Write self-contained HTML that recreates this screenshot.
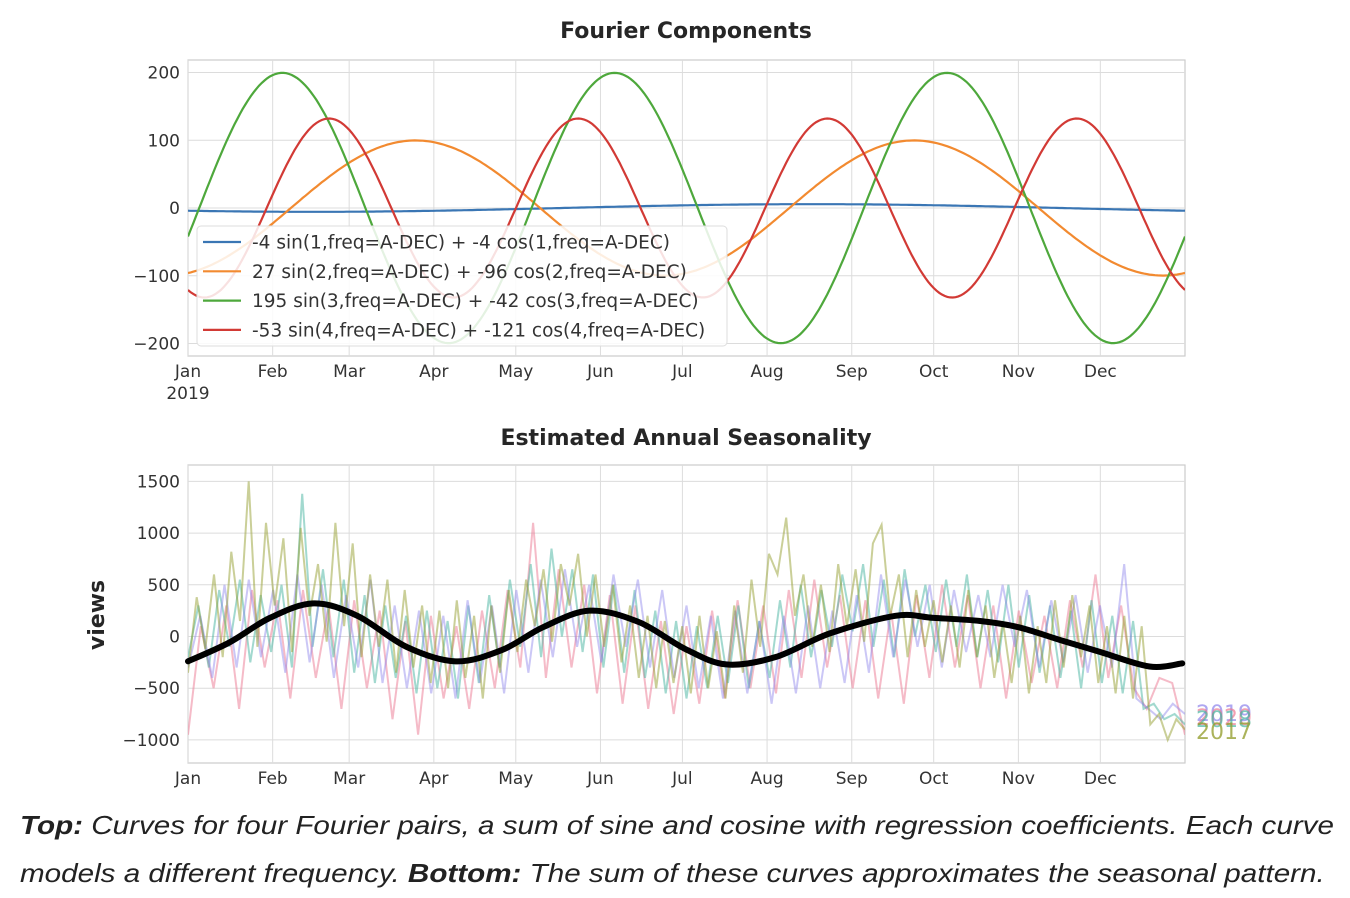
<!DOCTYPE html>
<html><head><meta charset="utf-8"><style>
body{margin:0;background:#fff;width:1350px;height:898px;overflow:hidden;position:relative}
svg{display:block}
.t{font-family:"DejaVu Sans","Liberation Sans",sans-serif;fill:#333;font-size:17px}
.lg{font-family:"DejaVu Sans","Liberation Sans",sans-serif;fill:#333;font-size:18.5px}
.title{font-family:"DejaVu Sans","Liberation Sans",sans-serif;font-weight:bold;font-size:22px;fill:#262626}
.cap{position:absolute;left:20px;font-family:"Liberation Sans",sans-serif;font-style:italic;font-size:26px;color:#222;white-space:nowrap;transform:scaleX(1.139);transform-origin:0 0}
</style></head><body>
<svg id="s" width="1350" height="898">
<text class="title" x="686" y="38" text-anchor="middle">Fourier Components</text>
<text class="title" x="686" y="445" text-anchor="middle">Estimated Annual Seasonality</text>
<text class="title" x="0" y="0" font-size="20" transform="translate(104,615) rotate(-90)" text-anchor="middle">views</text>
<g id="gtop"></g><g id="gbot"></g>
</svg>
<div class="cap" style="top:810px"><b>Top:</b> Curves for four Fourier pairs, a sum of sine and cosine with regression coefficients. Each curve</div>
<div class="cap" style="top:858px">models a different frequency. <b>Bottom:</b> The sum of these curves approximates the seasonal pattern.</div>
<script>
const months=["Jan","Feb","Mar","Apr","May","Jun","Jul","Aug","Sep","Oct","Nov","Dec"];
const monthDays=[0,31,59,90,120,151,181,212,243,273,304,334];
const sinCoef=[-4,27,195,-53];
const cosCoef=[-4,-96,-42,-121];
const labels=["-4 sin(1,freq=A-DEC) + -4 cos(1,freq=A-DEC)","27 sin(2,freq=A-DEC) + -96 cos(2,freq=A-DEC)","195 sin(3,freq=A-DEC) + -42 cos(3,freq=A-DEC)","-53 sin(4,freq=A-DEC) + -121 cos(4,freq=A-DEC)"];
const topTicks=[200,100,0,-100,-200];
const botTicks=[1500,1000,500,0,-500,-1000];
const s2017=[-350,380,-120,600,-200,820,150,1500,-100,1100,300,950,-150,1050,200,700,-50,1100,100,900,-200,600,-100,550,-350,450,-300,300,-450,250,-500,350,-400,200,-600,300,-350,450,-150,550,100,650,-50,700,300,800,0,600,-100,500,-250,300,-400,200,-500,150,-450,100,-550,200,-500,50,-600,300,-350,550,-100,800,600,1150,200,600,-100,500,-150,700,100,650,-50,900,1080,200,600,-200,450,-100,350,-250,300,-300,450,-200,300,-400,150,-450,200,-550,100,-450,350,-300,400,-200,300,-450,100,-550,200,-600,100,-850,-750,-1000,-800,-900];
const s2018=[-200,300,-300,450,-100,550,-250,400,-150,500,-300,1380,-100,650,-200,550,-350,400,-450,300,-400,200,-550,250,-500,150,-600,300,-450,400,-300,550,-100,700,-200,850,0,650,-150,600,-300,500,-350,450,-400,250,-550,150,-600,100,-500,200,-450,300,-500,150,-400,350,-300,500,-200,450,-100,600,50,700,-100,550,-200,650,0,500,-150,550,-100,600,-200,450,-250,500,-300,400,-350,300,-400,250,-500,350,-450,200,-550,150,-700,-650,-800,-750,-850];
const s2019=[-300,200,-400,500,-300,550,-200,450,-350,600,-250,500,-400,400,-300,550,-450,300,-500,250,-550,200,-600,350,-450,300,-550,450,-350,550,-200,650,-100,500,-250,600,-100,550,-300,450,-400,300,-500,200,-600,250,-550,150,-650,200,-550,300,-500,250,-450,400,-350,600,-200,550,-100,500,-300,450,-150,400,-200,500,-100,450,-300,350,-250,400,-350,300,-300,700,-600,-700,-800,-650,-750];
const s2020=[-950,100,-500,300,-700,450,-300,350,-600,450,-400,300,-700,350,-500,250,-800,150,-950,200,-600,100,-700,250,-500,450,-300,1100,-400,650,-300,500,-550,400,-650,300,-700,150,-750,100,-650,250,-600,350,-500,300,-550,450,-400,550,-300,400,-500,350,-600,250,-650,400,-400,500,-300,400,-500,300,-600,250,-450,200,-500,350,-300,600,-400,300,-500,-700,-400,-450,-950];
const seasDays=[0,15,30,46,62,80,98,115,130,147,165,182,197,215,235,259,273,290,304,320,334,352,364];
const seasVals=[-240,-60,180,320,200,-100,-240,-130,90,250,140,-120,-270,-200,30,200,180,150,90,-40,-150,-290,-260];
const NS="http://www.w3.org/2000/svg";
const L=188,R=1185;
const x=d=>L+(R-L)*d/365;
const yT=v=>208-v*0.6775;
const yB=v=>636.5-v*0.1034;
function el(p,t,a){const e=document.createElementNS(NS,t);for(const k in a)e.setAttribute(k,a[k]);p.appendChild(e);return e;}
function axes(g,t0,b0,ticks,yf,name){
 el(g,'rect',{x:L,y:t0,width:R-L,height:b0-t0,fill:'#fff',stroke:'#ccc','stroke-width':1.2});
 ticks.forEach(v=>{const ln=el(g,'line',{x1:L,x2:R,y1:yf(v),y2:yf(v),stroke:'#dcdcdc'});
 
 
 const t=el(g,'text',{x:L-8,y:yf(v)+6,'text-anchor':'end',class:'t'});t.textContent=String(v).replace('-','\u2212');
 
 });
 monthDays.forEach((d,i)=>{const ln=el(g,'line',{x1:x(d),x2:x(d),y1:t0,y2:b0,stroke:'#dcdcdc'});
 
 
 const t=el(g,'text',{x:x(d),y:b0+21,'text-anchor':'middle',class:'t'});t.textContent=months[i];
 
 });
}
const gTop=document.getElementById('gtop'),gBot=document.getElementById('gbot');
axes(gTop,60,356,topTicks,yT,'top');
const yr=el(gTop,'text',{x:188,y:399,'text-anchor':'middle',class:'t'});yr.textContent='2019';


const cols=['#3a76b4','#f28a30','#4ea83c','#d23a35'];
const cp=el(gTop,'clipPath',{id:'c1'});el(cp,'rect',{x:L,y:60,width:R-L,height:296});
for(let k=0;k<4;k++){let d='';for(let i=0;i<=365;i++){const t=2*Math.PI*i/365*(k+1);const v=sinCoef[k]*Math.sin(t)+cosCoef[k]*Math.cos(t);d+=(i?'L':'M')+x(i).toFixed(1)+','+yT(v).toFixed(1);}
 const p=el(gTop,'path',{d:d,fill:'none',stroke:cols[k],'stroke-width':2.2,'clip-path':'url(#c1)'});
 
 }
const lg=el(gTop,'g',{});


el(lg,'rect',{x:197,y:226,width:530,height:120,rx:4,fill:'rgba(255,255,255,0.85)',stroke:'#ddd'});
labels.forEach((s,k)=>{const yy=242+k*29.3;el(lg,'line',{x1:203,x2:241,y1:yy,y2:yy,stroke:cols[k],'stroke-width':2.2});
 const t=el(lg,'text',{x:252,y:yy+6.5,class:'lg'});t.textContent=s;
 
 });
axes(gBot,465,763,botTicks,yB,'bottom');
const cp2=el(gBot,'clipPath',{id:'c2'});el(cp2,'rect',{x:L,y:465,width:R-L,height:298});
const series=[[s2020,'rgba(235,120,145,0.5)','series-2020'],[s2018,'rgba(70,180,160,0.5)','series-2018'],[s2019,'rgba(140,130,235,0.45)','series-2019'],[s2017,'rgba(150,160,50,0.5)','series-2017']];
series.forEach(([arr,c,n])=>{const st=365/(arr.length-1);let d='';arr.forEach((v,i)=>{d+=(i?'L':'M')+x(i*st).toFixed(1)+','+yB(v).toFixed(1);});
 const p=el(gBot,'path',{d:d,fill:'none',stroke:c,'stroke-width':2,'clip-path':'url(#c2)'});
 
 });
(function(){const P=seasDays.map((d,i)=>[x(d),yB(seasVals[i])]);let d='M'+P[0];
 for(let i=0;i<P.length-1;i++){const p0=P[Math.max(0,i-1)],p1=P[i],p2=P[i+1],p3=P[Math.min(P.length-1,i+2)];
  const c1=[p1[0]+(p2[0]-p0[0])/6,p1[1]+(p2[1]-p0[1])/6],c2=[p2[0]-(p3[0]-p1[0])/6,p2[1]-(p3[1]-p1[1])/6];d+='C'+c1+' '+c2+' '+p2;}
 const p=el(gBot,'path',{d:d,fill:'none',stroke:'#000','stroke-width':6,'stroke-linecap':'round'});
 
 })();
[['2019','rgba(140,130,235,0.7)',721],['2020','rgba(235,120,145,0.7)',725],['2018','rgba(70,180,160,0.7)',727],['2017','rgba(150,160,50,0.8)',739]].forEach(([s,c,yy])=>{
 const t=el(gBot,'text',{x:1196,y:yy,class:'t',style:'fill:'+c+';font-size:22px'});t.textContent=s;
 
 });
</script>
</body></html>
